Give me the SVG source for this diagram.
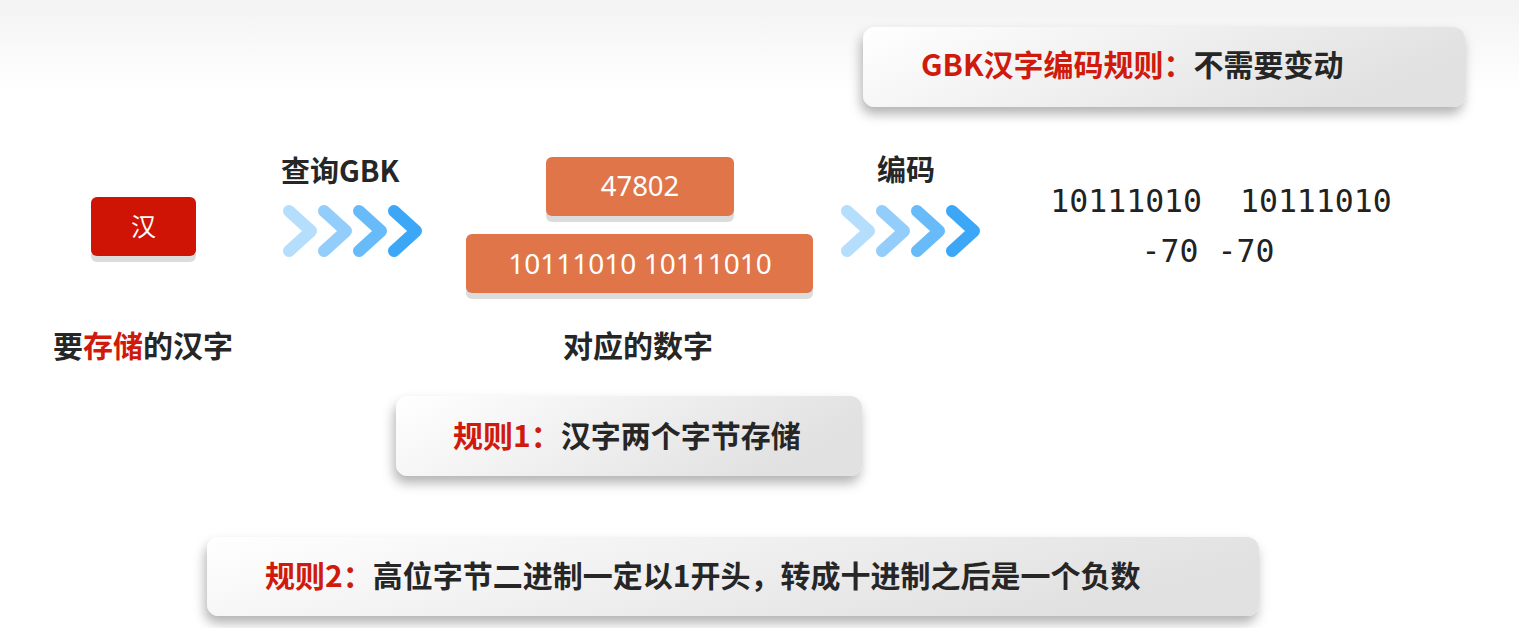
<svg xmlns="http://www.w3.org/2000/svg" width="1519" height="628" viewBox="0 0 1519 628">
<defs>
<linearGradient id="card" x1="0" y1="0" x2="1" y2="0.3">
<stop offset="0" stop-color="#ffffff"/>
<stop offset="1" stop-color="#e1e1e1"/>
</linearGradient>
<linearGradient id="bg" x1="0" y1="0" x2="0" y2="1">
<stop offset="0" stop-color="#f3f3f3"/>
<stop offset="0.15" stop-color="#ffffff"/>
<stop offset="1" stop-color="#ffffff"/>
</linearGradient>
<filter id="sh" x="-10%" y="-30%" width="120%" height="180%">
<feDropShadow dx="-2" dy="7" stdDeviation="6" flood-color="#000" flood-opacity="0.3"/>
</filter>
</defs>
<style>
.cjk{font-family:"Noto Sans CJK SC","Noto Sans",sans-serif;font-weight:bold;}
.red{fill:#cf1a0c;}
.dark{fill:#262626;}
.wt{fill:#ffffff;font-family:"Noto Sans","Noto Sans CJK SC",sans-serif;}
.mono{font-family:"DejaVu Sans Mono","Liberation Mono",monospace;fill:#222;font-size:31.5px;}
.card{fill:url(#card);filter:url(#sh);}
.base{fill:#dcdcdc;}
.chev{fill:none;stroke-width:12;stroke-linecap:round;stroke-linejoin:round;}
</style>
<rect width="1519" height="628" fill="url(#bg)"/>

<g id="rule-gbk">
<rect class="card" x="863" y="27" width="602" height="80" rx="12"/>
<text class="cjk" x="921" y="76" font-size="30"><tspan class="red">GBK汉字编码规则：</tspan><tspan class="dark">不需要变动</tspan></text>
</g>

<g id="node-han">
<rect class="base" x="91" y="203" width="105" height="59" rx="6"/>
<rect x="91" y="197" width="105" height="59" rx="6" fill="#cf1405"/>
<text class="wt" x="143.5" y="236" font-size="25" text-anchor="middle">汉</text>
<text class="cjk" x="53" y="357" font-size="30"><tspan class="dark">要</tspan><tspan class="red">存储</tspan><tspan class="dark">的汉字</tspan></text>
</g>

<g id="node-number">
<rect class="base" x="546" y="163" width="188" height="59" rx="6"/>
<rect x="546" y="157" width="188" height="59" rx="6" fill="#e07549"/>
<text class="wt" x="640" y="196" font-size="27.5" text-anchor="middle">47802</text>
<rect class="base" x="466" y="240" width="347" height="59" rx="6"/>
<rect x="466" y="234" width="347" height="59" rx="6" fill="#e07549"/>
<text class="wt" x="640" y="274" font-size="28" text-anchor="middle">10111010 10111010</text>
<text class="cjk dark" x="638" y="357" font-size="30" text-anchor="middle">对应的数字</text>
</g>

<g id="node-encoded">
<text class="mono" x="1221" y="212" text-anchor="middle" xml:space="preserve">10111010  10111010</text>
<text class="mono" x="1208" y="262" text-anchor="middle">-70 -70</text>
</g>

<g id="rule-1">
<rect class="card" x="396" y="396" width="466" height="80" rx="12"/>
<text class="cjk" x="453" y="447" font-size="30"><tspan class="red">规则1：</tspan><tspan class="dark">汉字两个字节存储</tspan></text>
</g>

<g id="rule-2">
<rect class="card" x="207" y="537" width="1052" height="79" rx="12"/>
<text class="cjk" x="265" y="587" font-size="30"><tspan class="red">规则2：</tspan><tspan class="dark">高位字节二进制一定以1开头，转成十进制之后是一个负数</tspan></text>
</g>

<g id="connectors">
<g id="conn-lookup">
<text class="cjk dark" x="281" y="182" font-size="29">查询GBK</text>
<polyline class="chev" stroke="#b5defd" points="289,211 311,231 289,251"/>
<polyline class="chev" stroke="#92cdfb" points="324,211 346,231 324,251"/>
<polyline class="chev" stroke="#68bbf9" points="359,211 381,231 359,251"/>
<polyline class="chev" stroke="#3ba7f6" points="394,211 416,231 394,251"/>
</g>
<g id="conn-encode">
<text class="cjk dark" x="877" y="181" font-size="29">编码</text>
<polyline class="chev" stroke="#b5defd" points="847,211 869,231 847,251"/>
<polyline class="chev" stroke="#92cdfb" points="882,211 904,231 882,251"/>
<polyline class="chev" stroke="#68bbf9" points="917,211 939,231 917,251"/>
<polyline class="chev" stroke="#3ba7f6" points="952,211 974,231 952,251"/>
</g>
</g>
</svg>
